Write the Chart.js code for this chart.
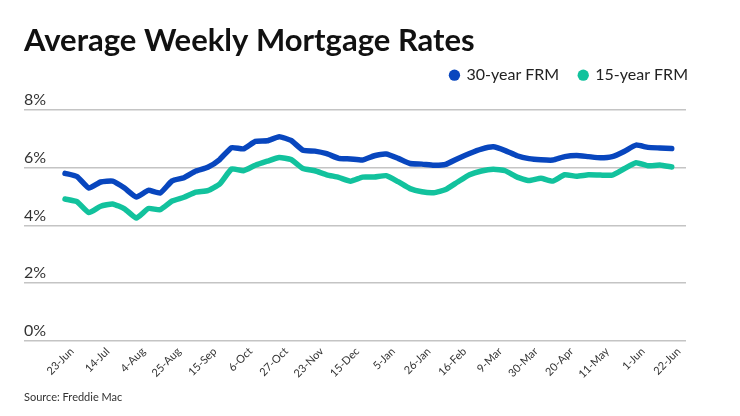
<!DOCTYPE html>
<html>
<head>
<meta charset="utf-8">
<script src="https://cdn.jsdelivr.net/npm/chart.js@4.4.1/dist/chart.umd.min.js"></script>
<style>
  body { margin: 0; background: #fff; }
  #wrap { position: relative; width: 740px; height: 416px; }
  #source {
    position: absolute; left: 24px; top: 390px;
    font: 11px Lato, sans-serif; color: #333;
  }
</style>
</head>
<body>
<div id="wrap">
  <canvas id="chart"></canvas>
  <div id="source">Source: Freddie Mac</div>
</div>
<script>
// weekly dates (Freddie Mac PMMS), 10-Nov missing in the source chart
const weekLabels = [
  "23-Jun", "30-Jun", "7-Jul", "14-Jul", "21-Jul", "28-Jul", "4-Aug", "11-Aug", "18-Aug",
  "25-Aug", "1-Sep", "8-Sep", "15-Sep", "22-Sep", "29-Sep", "6-Oct", "13-Oct", "20-Oct",
  "27-Oct", "3-Nov", "17-Nov", "23-Nov", "1-Dec", "8-Dec", "15-Dec", "22-Dec", "29-Dec",
  "5-Jan", "12-Jan", "19-Jan", "26-Jan", "2-Feb", "9-Feb", "16-Feb", "23-Feb", "2-Mar",
  "9-Mar", "16-Mar", "23-Mar", "30-Mar", "6-Apr", "13-Apr", "20-Apr", "27-Apr", "4-May",
  "11-May", "18-May", "25-May", "1-Jun", "8-Jun", "15-Jun", "22-Jun"
];

const rate30 = [
  5.81, 5.70, 5.30, 5.51, 5.54, 5.30, 4.99, 5.22, 5.13,
  5.55, 5.66, 5.89, 6.02, 6.29, 6.70, 6.66, 6.92, 6.94,
  7.08, 6.95, 6.61, 6.58, 6.49, 6.33, 6.31, 6.27, 6.42,
  6.48, 6.33, 6.15, 6.13, 6.09, 6.12, 6.32, 6.50, 6.65,
  6.73, 6.60, 6.42, 6.32, 6.28, 6.27, 6.39, 6.43, 6.39,
  6.35, 6.39, 6.57, 6.79, 6.71, 6.69, 6.67
];

const rate15 = [
  4.92, 4.83, 4.45, 4.67, 4.75, 4.58, 4.26, 4.59, 4.55,
  4.85, 4.98, 5.16, 5.21, 5.44, 5.96, 5.90, 6.09, 6.23,
  6.36, 6.29, 5.98, 5.90, 5.76, 5.67, 5.54, 5.68, 5.68,
  5.73, 5.52, 5.28, 5.17, 5.14, 5.25, 5.51, 5.76, 5.89,
  5.95, 5.90, 5.68, 5.56, 5.64, 5.54, 5.76, 5.71, 5.76,
  5.75, 5.75, 5.97, 6.18, 6.07, 6.10, 6.03
];

const seriesNames = ["30-year FRM", "15-year FRM"];
const yTicks = [0, 2, 4, 6, 8];
const labelEvery = 3;

const colors = { blue: "#0846be", green: "#12c29d", grid: "#c4c4c4", text: "#333" };

const toPoints = (arr) => arr.map((v, i) => ({ x: i, y: v }));

function lineSet(label, data, color) {
  return {
    label,
    data: toPoints(data),
    borderColor: color,
    backgroundColor: color,
    borderWidth: 5.5,
    pointRadius: 0,
    pointStyle: "circle",
    tension: 0.15,
    borderJoinStyle: "round",
    borderCapStyle: "round",
  };
}

// nudge the legend so it sits flush right and closer to the title
const legendShift = {
  id: "legendShift",
  afterLayout(chart) {
    const l = chart.legend;
    l.left += 22; l.right += 22;
    l.top -= 17; l.bottom -= 17;
  },
};

new Chart(document.getElementById("chart"), {
  type: "line",
  data: {
    datasets: [
      lineSet(seriesNames[0], rate30, colors.blue),
      lineSet(seriesNames[1], rate15, colors.green),
    ],
  },
  plugins: [legendShift],
  options: {
    responsive: true,
    maintainAspectRatio: false,
    animation: false,
    layout: { padding: { left: 24, right: 54, top: 22, bottom: 31 } },
    plugins: {
      title: {
        display: true,
        text: "Average Weekly Mortgage Rates",
        align: "start",
        color: "#111",
        font: { family: "Lato", size: 31, weight: "bold" },
        padding: { top: 0, bottom: 5 },
      },
      legend: {
        position: "top",
        align: "end",
        labels: {
          usePointStyle: true,
          boxWidth: 8,
          boxHeight: 8,
          padding: 20,
          color: "#222",
          font: { family: "Lato", size: 16 },
          generateLabels: (chart) =>
            Chart.defaults.plugins.legend.labels
              .generateLabels(chart)
              .map((l) => ({ ...l, lineWidth: 0 })),
        },
      },
      tooltip: { enabled: false },
    },
    scales: {
      x: {
        type: "linear",
        min: -3.45,
        max: 52.2,
        afterBuildTicks: (axis) => {
          axis.ticks = weekLabels
            .map((_, i) => i)
            .filter((i) => i % labelEvery === 0)
            .map((i) => ({ value: i }));
        },
        ticks: {
          autoSkip: false,
          minRotation: 45,
          maxRotation: 45,
          padding: 4,
          labelOffset: 7,
          color: colors.text,
          font: { family: "Lato", size: 11 },
          callback: (v) => weekLabels[v],
        },
        grid: { display: false, drawTicks: false },
        border: { display: false },
      },
      y: {
        min: 0,
        max: 8,
        afterBuildTicks: (axis) => {
          axis.ticks = yTicks.map((v) => ({ value: v }));
        },
        ticks: {
          mirror: true,
          padding: 0,
          labelOffset: -10,
          color: colors.text,
          font: { family: "Lato", size: 16 },
          callback: (v) => v + "%",
        },
        grid: { color: colors.grid, lineWidth: 1.5, drawTicks: false },
        border: { display: false },
      },
    },
  },
});
</script>
</body>
</html>
